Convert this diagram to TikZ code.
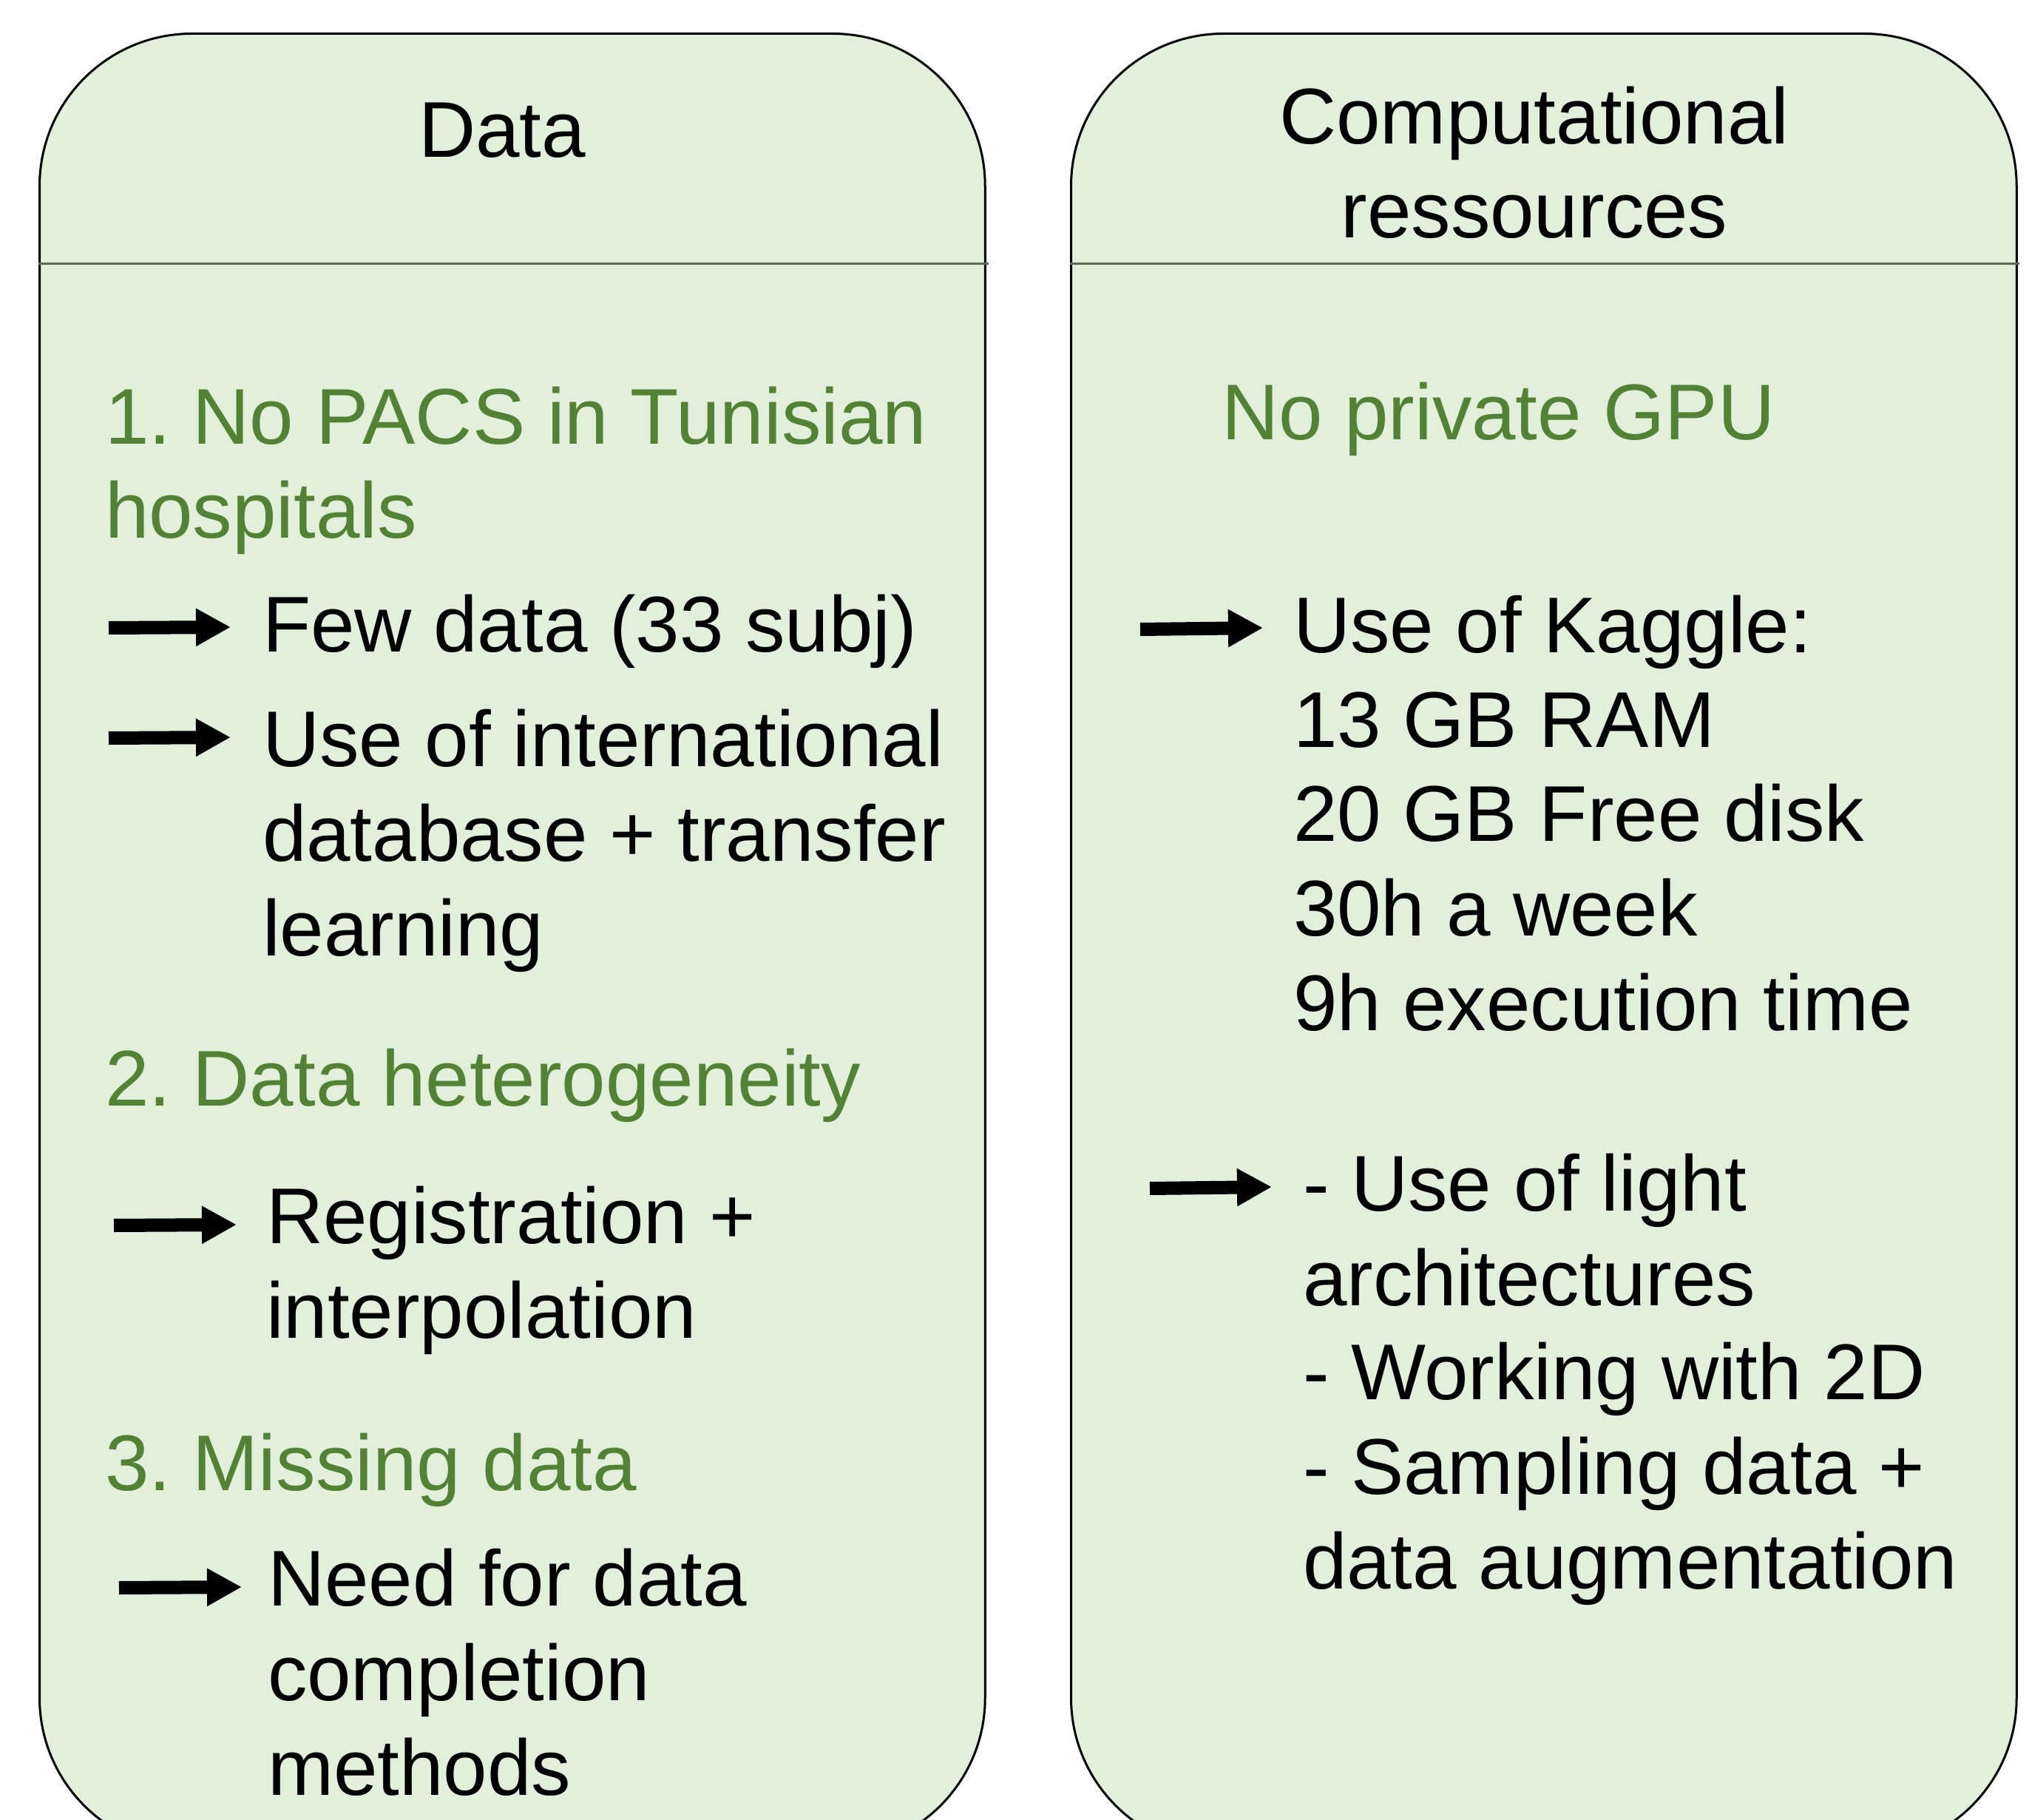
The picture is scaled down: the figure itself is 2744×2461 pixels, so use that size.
\documentclass[tikz,border=0pt]{standalone}
\usepackage{fontspec}
\setmainfont{Liberation Sans}
\usetikzlibrary{arrows.meta}
\definecolor{boxfill}{HTML}{E2EFDA}
\definecolor{headgreen}{HTML}{538135}
\definecolor{rulegray}{HTML}{5A6A52}
\frenchspacing
\begin{document}
\begin{tikzpicture}[x=0.01cm,y=-0.01cm,
  panel/.style={draw=black, line width=0.03cm, fill=boxfill, rounded corners=2.06cm,
    minimum width=12.78cm, minimum height=24.55cm, anchor=north west, inner sep=0pt},
  divider/.style={draw=rulegray, line width=0.03cm},
  txt/.style={inner sep=0pt, outer sep=0pt, anchor=base west, align=left,
    font=\fontsize{30.4pt}{36.3pt}\selectfont\frenchspacing, text=black},
  heading/.style={txt, text=headgreen},
  title/.style={inner sep=0pt, outer sep=0pt, anchor=base, align=center,
    font=\fontsize{30.4pt}{36.3pt}\selectfont, text=black},
  bigarrow/.style={line width=0.18cm, -{Triangle[length=0.47cm, width=0.48cm]}}
]
\useasboundingbox (0,0) rectangle (2744,2461);
\clip (0,0) rectangle (2744,2461);

% panels
\node[panel] (datapanel) at (52,44) {};
\node[panel] (comppanel) at (1447,44) {};
\draw[divider] (52,357) -- (1337,357);
\draw[divider] (1447,357) -- (2731,357);

% titles (anchored at the baseline of their last line)
\node[title] (datatitle) at (679,213) {Data};
\node[title] (comptitle) at (2075,322) {Computational\\ressources};

% left column
\node[heading] (h1) at (142,728) {1. No PACS in Tunisian\\hospitals};
\coordinate (a1s) at (147,849);
\coordinate (a1e) at (312,848);
\draw[bigarrow] (a1s) -- (a1e);
\node[txt] (t1) at (355,881) {Few data (33 subj)};
\coordinate (a2s) at (147,998);
\coordinate (a2e) at (312,997);
\draw[bigarrow] (a2s) -- (a2e);
\node[txt] (t2) at (355,1292) {Use of international\\database + transfer\\learning};

\node[heading] (h2) at (142,1495) {2. Data heterogeneity};
\coordinate (a3s) at (154,1657);
\coordinate (a3e) at (320,1656);
\draw[bigarrow] (a3s) -- (a3e);
\node[txt] (t3) at (360,1809) {Registration +\\interpolation};

\node[heading] (h3) at (142,2015) {3. Missing data};
\coordinate (a4s) at (161,2147);
\coordinate (a4e) at (327,2146);
\draw[bigarrow] (a4s) -- (a4e);
\node[txt] (t4) at (362,2427) {Need for data\\completion\\methods};

% right column
\node[heading] (h4) at (1652,595) {No private GPU};
\coordinate (a5s) at (1542,851);
\coordinate (a5e) at (1708,849);
\draw[bigarrow] (a5s) -- (a5e);
\node[txt] (t5) at (1749,1393) {Use of Kaggle:\\13 GB RAM\\20 GB Free disk\\30h a week\\9h execution time};
\coordinate (a6s) at (1555,1607);
\coordinate (a6e) at (1720,1605);
\draw[bigarrow] (a6s) -- (a6e);
\node[txt] (t6) at (1762,2148) {- Use of light\\architectures\\- Working with 2D\\- Sampling data +\\data augmentation};
\end{tikzpicture}
\end{document}
